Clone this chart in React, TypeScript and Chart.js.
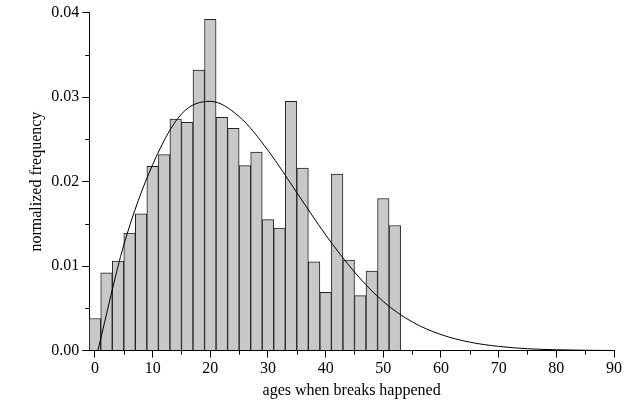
import React, { useEffect, useRef } from 'react';
import { Chart } from 'chart.js/auto';

const binCenters = [0, 2, 4, 6, 8, 10, 12, 14, 16, 18, 20, 22, 24, 26, 28, 30, 32, 34, 36, 38, 40, 42, 44, 46, 48, 50, 52];
const binValues = [0.0038, 0.0092, 0.0106, 0.0139, 0.0162, 0.0218, 0.0232, 0.0274, 0.027, 0.0332, 0.0392, 0.0276, 0.0263, 0.0219, 0.0235, 0.0155, 0.0145, 0.0295, 0.0216, 0.0105, 0.0069, 0.0209, 0.0107, 0.0065, 0.0094, 0.018, 0.0148];

const curveX = [0.5, 5, 10, 15, 20, 25, 30, 35, 40, 45, 50, 55, 60, 65, 70, 75, 80, 85, 90];
const curveY = [0, 0.0125, 0.022, 0.028, 0.0295, 0.0277, 0.0237, 0.0187, 0.0137, 0.0093, 0.0058, 0.0034, 0.0019, 0.001, 0.0005, 0.00022, 0.0001, 0.00004, 0.00001];

const FONT = '"Liberation Serif", "DejaVu Serif", serif';

const minorTicks = {
  id: 'minorTicks',
  afterDraw(chart: any) {
    const { ctx, scales } = chart;
    const x = scales.x;
    const y = scales.y;
    ctx.save();
    ctx.strokeStyle = '#000';
    ctx.lineWidth = 1;
    ctx.beginPath();
    for (let v = 5; v < 90; v += 10) {
      const px = Math.round(x.getPixelForValue(v)) + 0.5;
      ctx.moveTo(px, y.bottom);
      ctx.lineTo(px, y.bottom + 4);
    }
    for (let v = 0.005; v < 0.04; v += 0.01) {
      const py = Math.round(y.getPixelForValue(v)) + 0.5;
      ctx.moveTo(x.left, py);
      ctx.lineTo(x.left - 4, py);
    }
    ctx.stroke();
    ctx.restore();
  },
};

const App: React.FC = () => {
  const chartRef = useRef<HTMLCanvasElement | null>(null);

  useEffect(() => {
    if (!chartRef.current) return;
    const ctx = chartRef.current.getContext('2d');
    const chartInstance = new Chart(ctx as any, {
      type: 'bar',
      data: {
        datasets: [
          {
            type: 'line',
            data: curveX.map((x, i) => ({ x, y: curveY[i] })),
            borderColor: '#000',
            borderWidth: 1,
            pointRadius: 0,
            cubicInterpolationMode: 'monotone',
            fill: false,
          } as any,
          {
            type: 'bar',
            data: binCenters.map((x, i) => ({ x, y: binValues[i] })),
            backgroundColor: '#c8c8c8',
            borderColor: '#222',
            borderWidth: 1,
            barPercentage: 1,
            categoryPercentage: 1,
          } as any,
        ],
      },
      options: {
        animation: false,
        responsive: false,
        layout: { padding: { top: 12, right: 12, left: 25, bottom: 14 } },
        plugins: { legend: { display: false }, tooltip: { enabled: false } },
        scales: {
          x: {
            type: 'linear',
            min: -1,
            max: 90,
            offset: false,
            afterBuildTicks: (s: any) => {
              s.ticks = [0, 10, 20, 30, 40, 50, 60, 70, 80, 90].map((v) => ({ value: v }));
            },
            grid: { drawOnChartArea: false, offset: false, tickLength: 7, color: '#000' },
            border: { color: '#000' },
            ticks: { color: '#000', font: { family: FONT, size: 16 }, padding: 2, maxRotation: 0 },
            title: { display: true, text: 'ages when breaks happened', color: '#000', font: { family: FONT, size: 16 }, padding: 0 },
          },
          y: {
            min: 0,
            max: 0.04,
            ticks: {
              stepSize: 0.01,
              color: '#000',
              font: { family: FONT, size: 16 },
              callback: (v: any) => Number(v).toFixed(2),
            },
            grid: { drawOnChartArea: false, tickLength: 7, color: '#000' },
            border: { color: '#000' },
            title: { display: true, text: 'normalized frequency', color: '#000', font: { family: FONT, size: 16 }, padding: 2 },
          },
        },
      },
      plugins: [minorTicks],
    } as any);
    return () => {
      chartInstance.destroy();
    };
  }, []);

  return (
    <div style={{ position: 'absolute', left: 0, top: 0, background: '#fff' }}>
      <canvas ref={chartRef} width={626} height={414} />
    </div>
  );
};

export default App;
